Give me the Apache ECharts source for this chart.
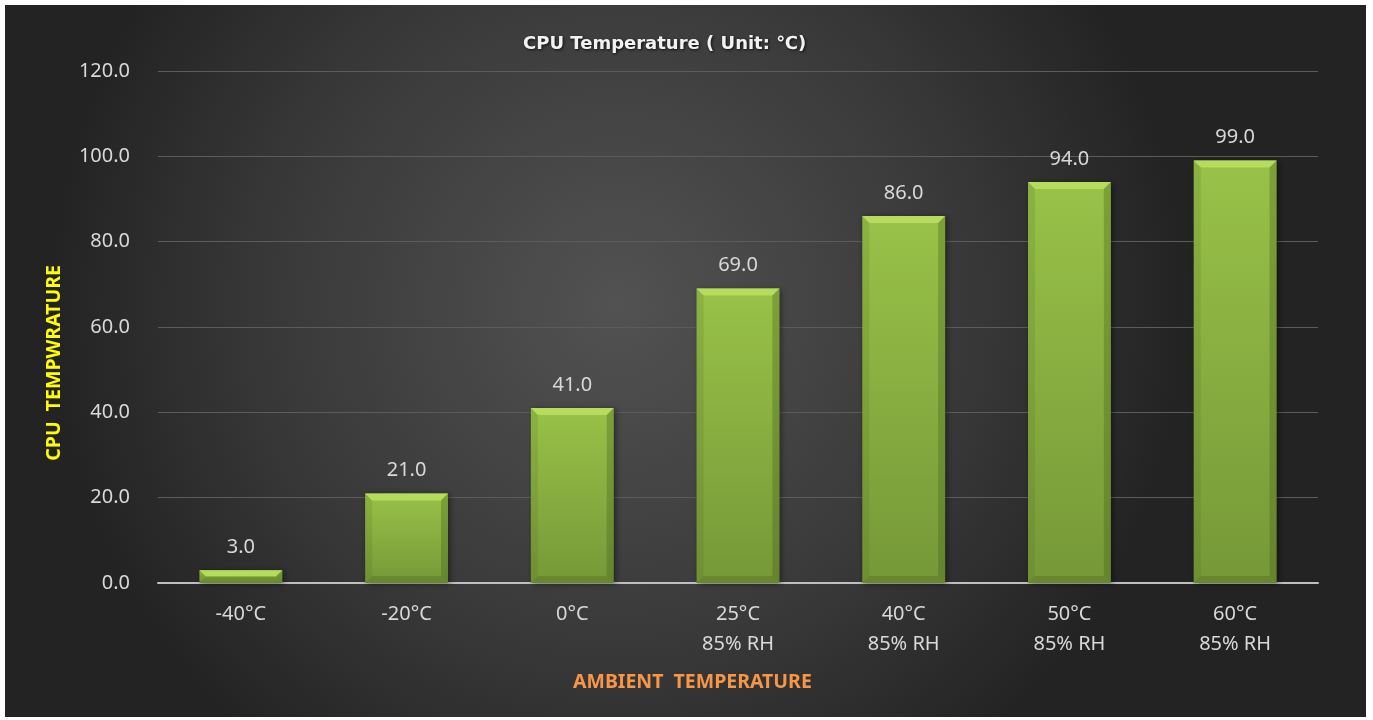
<!DOCTYPE html>
<html>
<head>
<meta charset="utf-8">
<script src="https://cdn.jsdelivr.net/npm/echarts@6/dist/echarts.min.js"></script>
<style>
  html, body { margin: 0; padding: 0; background: #ffffff; }
  #chart { position: absolute; left: 5px; top: 5px; width: 1361px; height: 712px; }
</style>
</head>
<body>
<div id="chart"></div>
<script>
// 数据
var categories = ['-40°C', '-20°C', '0°C', '25°C\n85% RH', '40°C\n85% RH', '50°C\n85% RH', '60°C\n85% RH'];
var cpuTemps = [3, 21, 41, 69, 86, 94, 99];
var yTicks = { min: 0, max: 120, interval: 20 };

var chart = echarts.init(document.getElementById('chart'));

var font = '"Noto Sans", "Open Sans", sans-serif';

// 斜面效果
function bevelItem(params, api) {
    var top = api.coord([api.value(0), api.value(1)]);
    var base = api.coord([api.value(0), 0]);
    var w = api.size([1, 0])[0] * 0.5;
    var l = top[0] - w / 2, r = top[0] + w / 2, t = top[1], b = base[1];
    var bev = Math.min(7, (b - t) / 2);
    return {
        type: 'group',
        children: [
            { type: 'polygon', shape: { points: [[l, t], [r, t], [r - bev, t + bev], [l + bev, t + bev]] },
              style: { fill: '#b6dc5e' } },
            { type: 'polygon', shape: { points: [[l, t], [l + bev, t + bev], [l + bev, b - bev], [l, b]] },
              style: { fill: 'rgba(70,95,25,0.15)' } },
            { type: 'polygon', shape: { points: [[r, t], [r - bev, t + bev], [r - bev, b - bev], [r, b]] },
              style: { fill: 'rgba(60,85,20,0.3)' } },
            { type: 'polygon', shape: { points: [[l, b], [l + bev, b - bev], [r - bev, b - bev], [r, b]] },
              style: { fill: 'rgba(60,85,20,0.25)' } }
        ]
    };
}

var option = {
    backgroundColor: new echarts.graphic.RadialGradient(0.45, 0.42, 0.8, [
        { offset: 0, color: '#525252' },
        { offset: 0.6, color: '#393939' },
        { offset: 1, color: '#232323' }
    ]),
    title: {
        text: 'CPU Temperature ( Unit: ℃)',
        left: 513,
        top: 25,
        textStyle: {
            color: '#f2f2f2',
            fontFamily: '"DejaVu Sans", sans-serif',
            fontWeight: 'bold',
            fontSize: 18,
            textShadowColor: 'rgba(0,0,0,0.8)',
            textShadowBlur: 3,
            textShadowOffsetX: 1,
            textShadowOffsetY: 1
        }
    },
    grid: { left: 153, right: 48, top: 66, bottom: 134 },
    xAxis: {
        type: 'category',
        data: categories,
        axisLine: { lineStyle: { color: '#bfbfbf', width: 2 } },
        axisTick: { show: false },
        axisLabel: { color: '#d9d9d9', fontFamily: font, fontSize: 20, lineHeight: 30, margin: 16 }
    },
    yAxis: {
        type: 'value',
        min: yTicks.min,
        max: yTicks.max,
        interval: yTicks.interval,
        axisLine: { show: false },
        axisTick: { show: false },
        splitLine: { lineStyle: { color: '#5c5c5c', width: 1 } },
        axisLabel: {
            color: '#d9d9d9', fontFamily: font, fontSize: 20, margin: 28,
            formatter: function (v) { return v.toFixed(1); }
        }
    },
    graphic: [
        {
            type: 'text', left: 39, top: 260, rotation: Math.PI / 2,
            style: { text: 'CPU  TEMPWRATURE', fill: '#ffff00', font: 'bold 19.5px ' + font }
        },
        {
            type: 'text', left: 568, top: 667,
            style: { text: 'AMBIENT  TEMPERATURE', fill: '#f79646', font: 'bold 19.5px ' + font }
        }
    ],
    series: [
        {
            name: 'CPU',
            type: 'bar',
            barWidth: '50%',
            data: cpuTemps,
            itemStyle: {
                color: new echarts.graphic.LinearGradient(0, 0, 0, 1, [
                    { offset: 0, color: '#98c248' },
                    { offset: 1, color: '#769838' }
                ]),
                shadowColor: 'rgba(0,0,0,0.45)',
                shadowBlur: 6,
                shadowOffsetX: 2,
                shadowOffsetY: 1
            },
            label: {
                show: true,
                position: 'top',
                distance: 13,
                color: '#d9d9d9',
                fontFamily: font,
                fontSize: 20,
                formatter: function (p) { return p.value.toFixed(1); }
            },
            z: 2
        },
        {
            type: 'custom',
            renderItem: bevelItem,
            data: cpuTemps.map(function (v, i) { return [i, v]; }),
            silent: true,
            z: 3
        }
    ]
};

chart.setOption(option);
</script>
</body>
</html>
